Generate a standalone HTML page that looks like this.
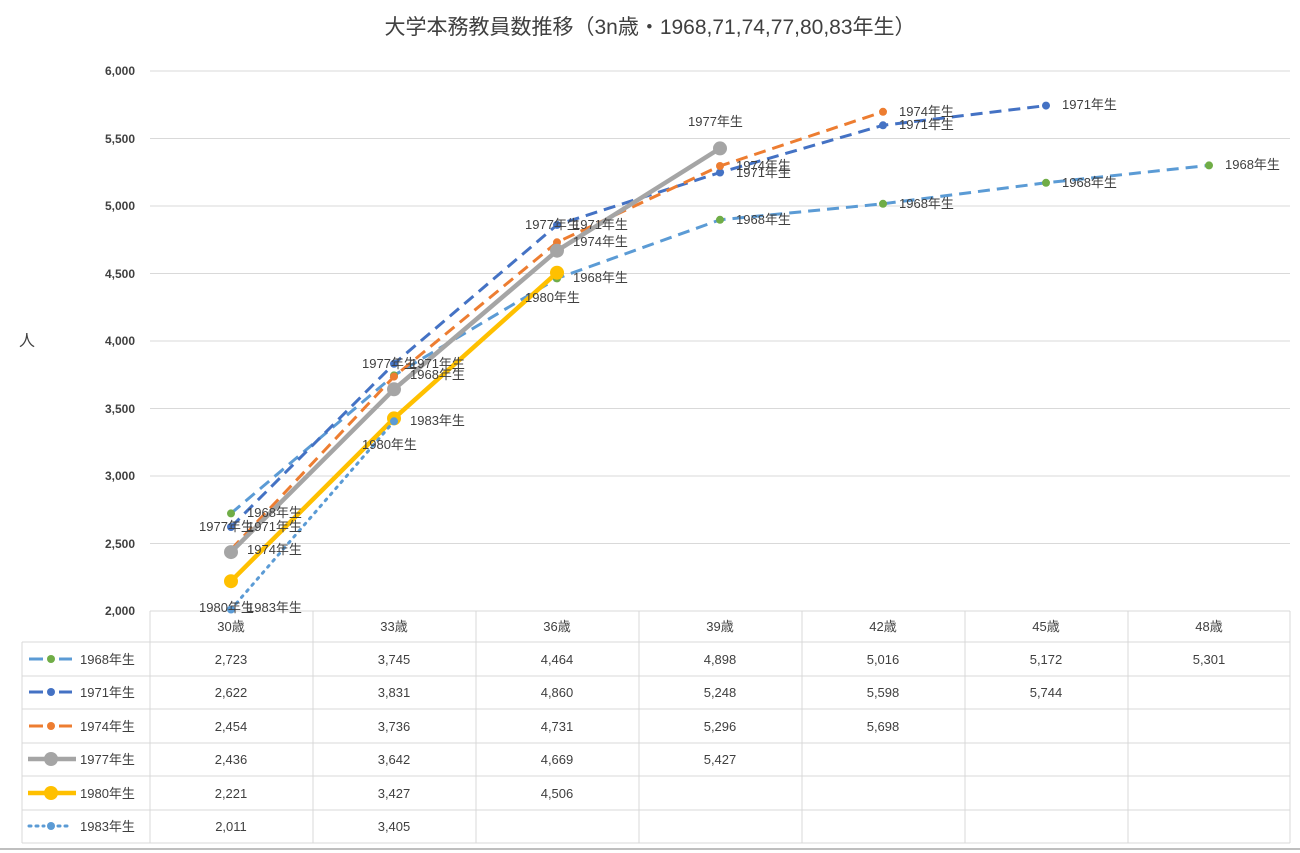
<!DOCTYPE html><html><head><meta charset="utf-8"><style>body{margin:0;background:#fff}svg{display:block}text{font-family:"Liberation Sans","Noto Sans CJK JP",sans-serif;fill:#404040}</style></head><body>
<svg width="1300" height="853" viewBox="0 0 1300 853">
<text x="650" y="34" font-size="21" text-anchor="middle" fill="#595959">大学本務教員数推移（3n歳・1968,71,74,77,80,83年生）</text>
<g stroke="#d9d9d9" stroke-width="1">
<line x1="150" y1="71" x2="1290" y2="71"/><line x1="150" y1="138.5" x2="1290" y2="138.5"/><line x1="150" y1="206" x2="1290" y2="206"/><line x1="150" y1="273.5" x2="1290" y2="273.5"/><line x1="150" y1="341" x2="1290" y2="341"/><line x1="150" y1="408.5" x2="1290" y2="408.5"/><line x1="150" y1="476" x2="1290" y2="476"/><line x1="150" y1="543.5" x2="1290" y2="543.5"/>
<line x1="150" y1="611" x2="1290" y2="611"/>
<line x1="22" y1="642" x2="1290" y2="642"/><line x1="22" y1="676" x2="1290" y2="676"/><line x1="22" y1="709" x2="1290" y2="709"/><line x1="22" y1="743" x2="1290" y2="743"/><line x1="22" y1="776" x2="1290" y2="776"/><line x1="22" y1="810" x2="1290" y2="810"/><line x1="22" y1="843" x2="1290" y2="843"/>
<line x1="22" y1="642" x2="22" y2="843"/><line x1="150" y1="611" x2="150" y2="843"/><line x1="313" y1="611" x2="313" y2="843"/><line x1="476" y1="611" x2="476" y2="843"/><line x1="639" y1="611" x2="639" y2="843"/><line x1="802" y1="611" x2="802" y2="843"/><line x1="965" y1="611" x2="965" y2="843"/><line x1="1128" y1="611" x2="1128" y2="843"/><line x1="1290" y1="611" x2="1290" y2="843"/>
<line x1="0" y1="849" x2="1300" y2="849" stroke="#bfbfbf" stroke-width="2"/>
</g>
<g font-size="12" font-weight="bold" text-anchor="end" fill="#595959">
<text x="135" y="75">6,000</text><text x="135" y="143">5,500</text><text x="135" y="210">5,000</text><text x="135" y="278">4,500</text><text x="135" y="345">4,000</text><text x="135" y="413">3,500</text><text x="135" y="480">3,000</text><text x="135" y="548">2,500</text><text x="135" y="615">2,000</text>
</g>
<text x="27" y="346" font-size="16" text-anchor="middle" fill="#595959">人</text>
<g fill="none" stroke-width="3">
<polyline stroke="#5B9BD5" stroke-dasharray="12,7" points="231,513.4 394,375.4 557,278.4 720,219.8 883,203.8 1046,182.8 1209,165.4"/>
<polyline stroke="#4472C4" stroke-dasharray="12,7" points="231,527 394,363.8 557,224.9 720,172.5 883,125.3 1046,105.6"/>
<polyline stroke="#ED7D31" stroke-dasharray="12,7" points="231,549.7 394,376.6 557,242.3 720,166 883,111.8"/>
<polyline stroke="#A5A5A5" stroke-width="4.5" points="231,552.1 394,389.3 557,250.7 720,148.4"/>
<polyline stroke="#FFC000" stroke-width="4.5" points="231,581.2 394,418.4 557,272.7"/>
<polyline stroke="#5B9BD5" stroke-dasharray="2,6" stroke-linecap="round" points="231,609.5 394,421.3"/>
</g>
<g fill="#70AD47"><circle cx="231" cy="513.4" r="4"/><circle cx="394" cy="375.4" r="4"/><circle cx="557" cy="278.4" r="4"/><circle cx="720" cy="219.8" r="4"/><circle cx="883" cy="203.8" r="4"/><circle cx="1046" cy="182.8" r="4"/><circle cx="1209" cy="165.4" r="4"/></g>
<g fill="#4472C4"><circle cx="231" cy="527" r="4"/><circle cx="394" cy="363.8" r="4"/><circle cx="557" cy="224.9" r="4"/><circle cx="720" cy="172.5" r="4"/><circle cx="883" cy="125.3" r="4"/><circle cx="1046" cy="105.6" r="4"/></g>
<g fill="#ED7D31"><circle cx="231" cy="549.7" r="4"/><circle cx="394" cy="376.6" r="4"/><circle cx="557" cy="242.3" r="4"/><circle cx="720" cy="166" r="4"/><circle cx="883" cy="111.8" r="4"/></g>
<g fill="#A5A5A5"><circle cx="231" cy="552.1" r="7"/><circle cx="394" cy="389.3" r="7"/><circle cx="557" cy="250.7" r="7"/><circle cx="720" cy="148.4" r="7"/></g>
<g fill="#FFC000"><circle cx="231" cy="581.2" r="7"/><circle cx="394" cy="418.4" r="7"/><circle cx="557" cy="272.7" r="7"/></g>
<g fill="#5B9BD5"><circle cx="231" cy="609.5" r="4"/><circle cx="394" cy="421.3" r="4"/></g>
<g font-size="13">
<text x="247" y="517">1968年生</text><text x="199" y="531">1977年生</text><text x="247" y="531">1971年生</text><text x="247" y="554">1974年生</text><text x="199" y="612">1980年生</text><text x="247" y="612">1983年生</text>
<text x="362" y="368">1977年生</text><text x="410" y="368">1971年生</text><text x="410" y="379">1968年生</text><text x="410" y="425">1983年生</text><text x="362" y="449">1980年生</text>
<text x="525" y="229">1977年生</text><text x="573" y="229">1971年生</text><text x="573" y="246">1974年生</text><text x="573" y="282">1968年生</text><text x="525" y="302">1980年生</text>
<text x="688" y="126">1977年生</text><text x="736" y="170">1974年生</text><text x="736" y="177">1971年生</text><text x="736" y="224">1968年生</text>
<text x="899" y="116">1974年生</text><text x="899" y="129">1971年生</text><text x="899" y="208">1968年生</text>
<text x="1062" y="109">1971年生</text><text x="1062" y="187">1968年生</text><text x="1225" y="169">1968年生</text>
</g>
<g font-size="13" text-anchor="middle">
<text x="231" y="631">30歳</text><text x="394" y="631">33歳</text><text x="557" y="631">36歳</text><text x="720" y="631">39歳</text><text x="883" y="631">42歳</text><text x="1046" y="631">45歳</text><text x="1209" y="631">48歳</text>
<text x="231" y="664">2,723</text><text x="394" y="664">3,745</text><text x="557" y="664">4,464</text><text x="720" y="664">4,898</text><text x="883" y="664">5,016</text><text x="1046" y="664">5,172</text><text x="1209" y="664">5,301</text>
<text x="231" y="697">2,622</text><text x="394" y="697">3,831</text><text x="557" y="697">4,860</text><text x="720" y="697">5,248</text><text x="883" y="697">5,598</text><text x="1046" y="697">5,744</text>
<text x="231" y="731">2,454</text><text x="394" y="731">3,736</text><text x="557" y="731">4,731</text><text x="720" y="731">5,296</text><text x="883" y="731">5,698</text>
<text x="231" y="764">2,436</text><text x="394" y="764">3,642</text><text x="557" y="764">4,669</text><text x="720" y="764">5,427</text>
<text x="231" y="798">2,221</text><text x="394" y="798">3,427</text><text x="557" y="798">4,506</text>
<text x="231" y="831">2,011</text><text x="394" y="831">3,405</text>
</g>
<g stroke-width="3">
<path d="M29 659H43M59 659H72" stroke="#5B9BD5"/><circle cx="51" cy="659" r="4" fill="#70AD47"/>
<path d="M29 692H43M59 692H72" stroke="#4472C4"/><circle cx="51" cy="692" r="4" fill="#4472C4"/>
<path d="M29 726H43M59 726H72" stroke="#ED7D31"/><circle cx="51" cy="726" r="4" fill="#ED7D31"/>
<line x1="28" y1="759" x2="76" y2="759" stroke="#A5A5A5" stroke-width="4.5"/><circle cx="51" cy="759" r="7" fill="#A5A5A5"/>
<line x1="28" y1="793" x2="76" y2="793" stroke="#FFC000" stroke-width="4.5"/><circle cx="51" cy="793" r="7" fill="#FFC000"/>
<path d="M29 826H44M58 826H72" stroke="#5B9BD5" stroke-dasharray="2,5" stroke-linecap="round"/><circle cx="51" cy="826" r="4" fill="#5B9BD5"/>
</g>
<g font-size="13"><text x="80" y="664">1968年生</text><text x="80" y="697">1971年生</text><text x="80" y="731">1974年生</text><text x="80" y="764">1977年生</text><text x="80" y="798">1980年生</text><text x="80" y="831">1983年生</text></g>
</svg></body></html>
